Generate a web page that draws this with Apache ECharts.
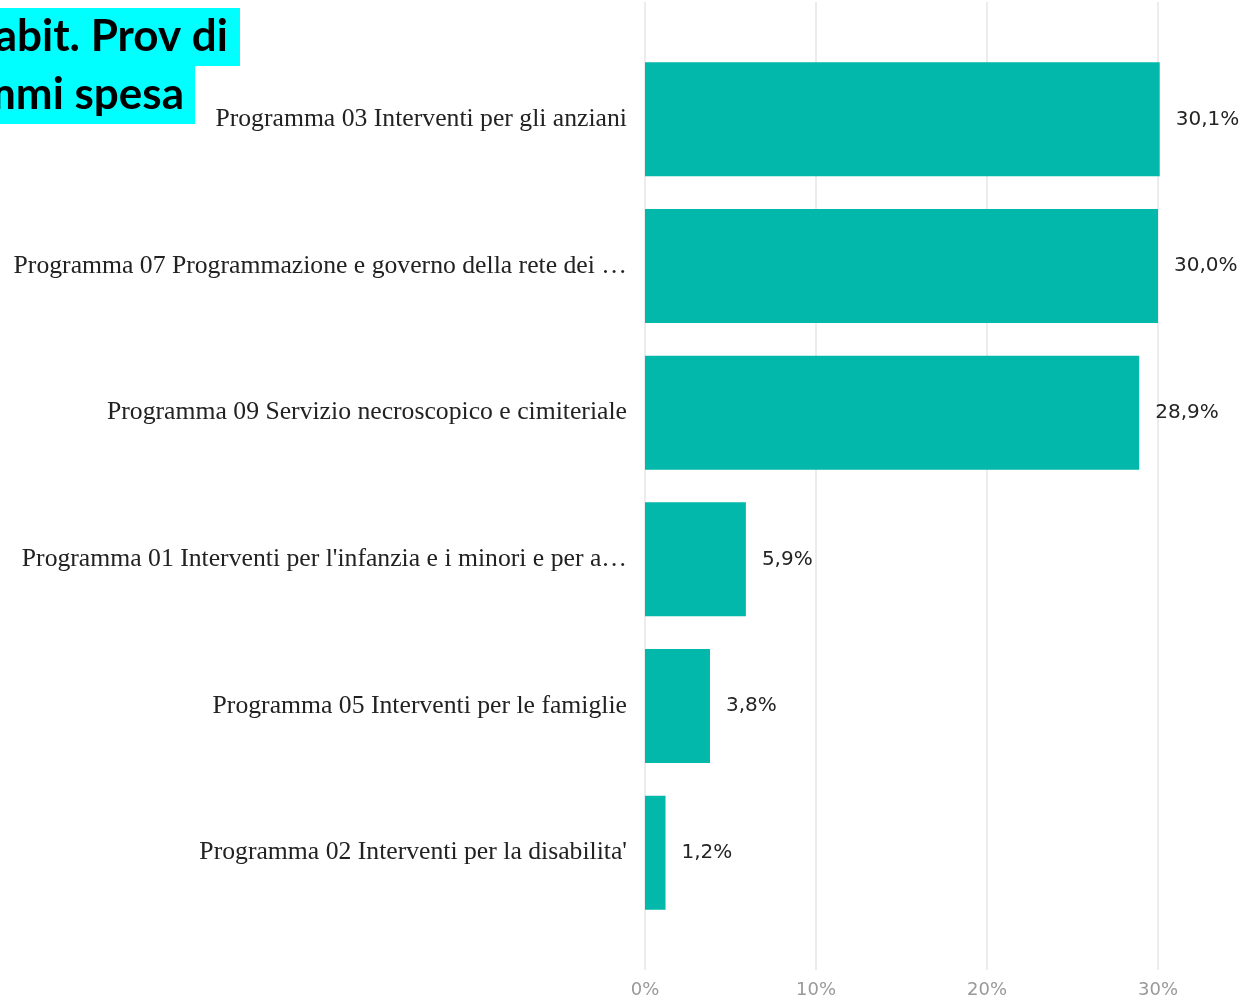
<!DOCTYPE html>
<html>
<head>
<meta charset="utf-8">
<script src="https://cdn.jsdelivr.net/npm/echarts@6/dist/echarts.min.js"></script>
<style>
    html, body { margin: 0; padding: 0; background: #fff; }
    #main { width: 1243px; height: 999px; }
</style>
</head>
<body>
<div id="main"></div>
<script>
// categories as shown (already truncated in the source picture)
var categories = [
    'Programma 03 Interventi per gli anziani',
    'Programma 07 Programmazione e governo della rete dei \u2026',
    'Programma 09 Servizio necroscopico e cimiteriale',
    'Programma 01 Interventi per l\'infanzia e i minori e per a\u2026',
    'Programma 05 Interventi per le famiglie',
    'Programma 02 Interventi per la disabilita\''
];
var shares = [30.1, 30.0, 28.9, 5.9, 3.8, 1.2];
var titleLines = ['abit. Prov di', 'mmi spesa'];

var chart = echarts.init(document.getElementById('main'));

var option = {
    animation: false,
    backgroundColor: '#fff',
    grid: [
        // bars
        { left: 645, right: 85, top: 46, height: 880 },
        // background split lines + x labels, taller than the bar area
        { left: 645, right: 85, top: 2, height: 968 }
    ],
    xAxis: [
        {
            gridIndex: 0, type: 'value', min: 0, max: 30, interval: 10,
            show: false
        },
        {
            gridIndex: 1, type: 'value', min: 0, max: 30, interval: 10,
            axisLine: { show: false },
            axisTick: { show: false },
            splitLine: { show: true, lineStyle: { color: '#ececec', width: 2 } },
            axisLabel: {
                margin: 11,
                color: '#999',
                fontFamily: 'DejaVu Sans',
                fontSize: 18,
                formatter: '{value}%'
            }
        }
    ],
    yAxis: [
        {
            gridIndex: 0, type: 'category', data: categories, inverse: true,
            axisLine: { show: false },
            axisTick: { show: false },
            axisLabel: {
                margin: 18,
                color: '#222',
                fontFamily: 'Liberation Serif',
                fontSize: 25.7
            }
        },
        { gridIndex: 1, type: 'value', show: false, min: 0, max: 1 }
    ],
    series: [{
        type: 'bar',
        xAxisIndex: 0,
        yAxisIndex: 0,
        data: shares,
        clip: false,
        barCategoryGap: '22.3%',
        itemStyle: { color: '#01b8aa' },
        label: {
            show: true,
            position: 'right',
            distance: 16,
            color: '#252423',
            fontFamily: 'DejaVu Sans',
            fontSize: 20,
            formatter: function (p) {
                return p.value.toFixed(1).replace('.', ',') + '%';
            }
        }
    }],
    graphic: [
        {
            type: 'text', x: 240, y: 8,
            style: {
                text: titleLines[0],
                align: 'right', verticalAlign: 'top',
                font: 'bold 44px Lato',
                fill: '#000',
                backgroundColor: '#00ffff',
                lineHeight: 58,
                padding: [0, 12, 0, 60]
            }
        },
        {
            type: 'text', x: 195, y: 66,
            style: {
                text: titleLines[1],
                align: 'right', verticalAlign: 'top',
                font: 'bold 44px Lato',
                fill: '#000',
                backgroundColor: '#00ffff',
                lineHeight: 58,
                padding: [0, 11, 0, 60]
            }
        }
    ]
};

chart.setOption(option);
</script>
</body>
</html>
